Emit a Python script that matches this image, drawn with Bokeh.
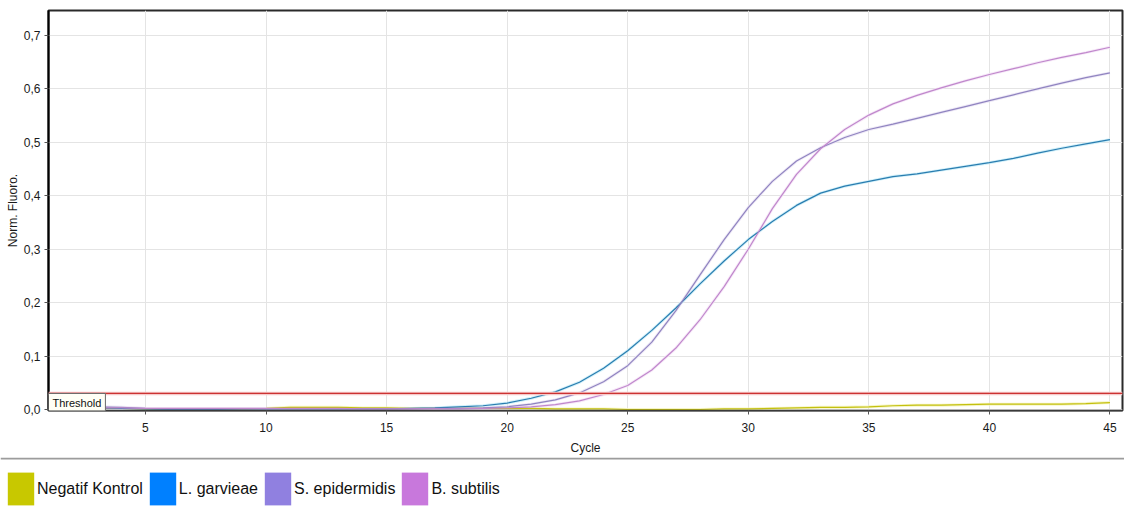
from bokeh.plotting import figure
from bokeh.models import (Range1d, FixedTicker, CustomJSTickFormatter, Span, Label,
                          Legend, LegendItem, ColumnDataSource)
from bokeh.layouts import column
from bokeh.embed import file_html
from bokeh.resources import INLINE

# ---------------- data ----------------
cycles = list(range(1, 46))
series_names = ["Negatif Kontrol", "L. garvieae", "S. epidermidis", "B. subtilis"]
legend_colors = ["#c8c800", "#0080ff", "#9080e0", "#c878dc"]
line_colors = ["#c4c010", "#2a7db0", "#9084c0", "#c088cc"]
halo_colors = ["#f4f4b8", "#c6ecf8", "#e8e2f4", "#f4e2f6"]

negatif_kontrol = [0.002, 0.002, 0.002, 0.002, 0.001, 0.001, 0.001, 0.001, 0.001, 0.002,
                   0.004, 0.004, 0.004, 0.003, 0.003, 0.002, 0.002, 0.002, 0.002, 0.002,
                   0.002, 0.001, 0.001, 0.001, 0.000, 0.000, 0.000, 0.000, 0.001, 0.001,
                   0.002, 0.003, 0.004, 0.004, 0.005, 0.007, 0.008, 0.008, 0.009, 0.010,
                   0.010, 0.010, 0.010, 0.011, 0.013]
l_garvieae = [0.004, 0.004, 0.003, 0.002, 0.001, 0.000, 0.000, 0.000, 0.001, 0.001,
              0.001, 0.001, 0.001, 0.001, 0.001, 0.002, 0.003, 0.005, 0.007, 0.012,
              0.021, 0.033, 0.051, 0.077, 0.110, 0.148, 0.190, 0.235, 0.278, 0.318,
              0.352, 0.382, 0.405, 0.418, 0.427, 0.436, 0.441, 0.448, 0.455, 0.462,
              0.470, 0.480, 0.489, 0.497, 0.505]
s_epidermidis = [0.005, 0.005, 0.005, 0.004, 0.002, 0.001, 0.001, 0.001, 0.001, 0.001,
                 0.001, 0.001, 0.001, 0.001, 0.001, 0.001, 0.002, 0.002, 0.003, 0.005,
                 0.010, 0.018, 0.031, 0.052, 0.082, 0.126, 0.185, 0.252, 0.318, 0.378,
                 0.427, 0.465, 0.490, 0.509, 0.524, 0.534, 0.545, 0.556, 0.567, 0.578,
                 0.589, 0.600, 0.611, 0.621, 0.630]
b_subtilis = [0.003, 0.003, 0.003, 0.003, 0.002, 0.002, 0.002, 0.002, 0.002, 0.002,
              0.002, 0.002, 0.002, 0.001, 0.001, 0.001, 0.001, 0.001, 0.002, 0.003,
              0.005, 0.009, 0.016, 0.028, 0.045, 0.074, 0.115, 0.168, 0.230, 0.300,
              0.376, 0.440, 0.488, 0.524, 0.551, 0.572, 0.588, 0.602, 0.615, 0.627,
              0.638, 0.649, 0.659, 0.668, 0.678]
series_values = [negatif_kontrol, l_garvieae, s_epidermidis, b_subtilis]

threshold = 0.03
x_ticks = [5, 10, 15, 20, 25, 30, 35, 40, 45]
y_ticks = [0.0, 0.1, 0.2, 0.3, 0.4, 0.5, 0.6, 0.7]
x_title = "Cycle"
y_title = "Norm. Fluoro."
threshold_text = "Threshold"

FONT = "Liberation Sans"
NAN = float("nan")

# ---------------- main plot ----------------
p = figure(width=1124, height=457, x_range=Range1d(0.98, 45.52), y_range=Range1d(-0.0019, 0.7468),
           output_backend="svg", toolbar_location=None,
           min_border_left=48, min_border_right=2, min_border_top=10, min_border_bottom=47)
p.frame_align = False
p.background_fill_color = "white"
p.border_fill_color = "white"
p.outline_line_color = "#2a2a2a"
p.outline_line_width = 2

p.xaxis.ticker = FixedTicker(ticks=x_ticks)
p.yaxis.ticker = FixedTicker(ticks=y_ticks)
p.yaxis.formatter = CustomJSTickFormatter(code="return tick.toFixed(1).replace('.', ',');")
p.xaxis.axis_label = x_title
p.yaxis.axis_label = y_title
for ax in (p.xaxis, p.yaxis):
    ax.axis_label_text_font = FONT
    ax.axis_label_text_font_size = "12px"
    ax.axis_label_text_font_style = "normal"
    ax.axis_label_text_color = "#1a1a1a"
    ax.major_label_text_font = FONT
    ax.major_label_text_font_size = "12px"
    ax.major_label_text_color = "#1a1a1a"
    ax.major_tick_in = 0
    ax.major_tick_out = 4
    ax.minor_tick_in = 0
    ax.minor_tick_out = 0
    ax.major_tick_line_color = "#555555"
p.yaxis.axis_line_color = "black"
p.yaxis.axis_line_width = 2
p.xaxis.axis_line_color = "#3a3a3a"
p.xaxis.axis_line_width = 1.5
p.xaxis.major_label_standoff = 8
p.xaxis.axis_label_standoff = 6
p.yaxis.major_label_standoff = 4
p.yaxis.axis_label_standoff = 1

p.xgrid.grid_line_color = "#e4e4e4"
p.ygrid.grid_line_color = "#e4e4e4"

# threshold line with soft halo
p.add_layout(Span(location=threshold, dimension="width", line_color="#f6caca", line_width=3.5))
p.add_layout(Span(location=threshold, dimension="width", line_color="#cc3333", line_width=1.3))

for name, vals, lc, hc in zip(series_names, series_values, line_colors, halo_colors):
    src = ColumnDataSource(dict(x=cycles, y=vals))
    p.line("x", "y", source=src, line_color=hc, line_width=3.0, line_alpha=0.8)
for name, vals, lc, hc in zip(series_names, series_values, line_colors, halo_colors):
    src = ColumnDataSource(dict(x=cycles, y=vals))
    p.line("x", "y", source=src, line_color=lc, line_width=1.2)

p.add_layout(Label(x=0.98, y=threshold, text=threshold_text, anchor="top_left",
                   text_font=FONT, text_font_size="11px", text_color="#111111",
                   border_line_color="#6a6a6a", border_line_width=1,
                   background_fill_color="#fffff6", padding=4))

# ---------------- legend strip ----------------
p2 = figure(width=1124, height=51, x_range=Range1d(0, 1), y_range=Range1d(0, 51),
            x_axis_location=None, y_axis_location=None, min_border=0,
            min_border_left=0, min_border_right=0, min_border_top=0, min_border_bottom=0,
            toolbar_location=None, output_backend="svg")
p2.frame_align = False
p2.outline_line_color = None
p2.background_fill_color = "white"
p2.border_fill_color = "white"
p2.xgrid.visible = False
p2.ygrid.visible = False
p2.add_layout(Span(location=50, dimension="width", line_color="#9c9c9c", line_width=2))

items = []
for name, col in zip(series_names, legend_colors):
    r = p2.quad(left=[NAN], right=[NAN], top=[NAN], bottom=[NAN], fill_color=col, line_color=None)
    items.append(LegendItem(label=name, renderers=[r]))

legend = Legend(items=items, orientation="horizontal", location=(4, -1),
                glyph_width=33, glyph_height=41, label_standoff=0, spacing=3,
                padding=0, margin=0, border_line_color=None, background_fill_alpha=0,
                label_text_font=FONT, label_text_font_size="16px", label_height=41,
                label_text_color="#111111")
p2.add_layout(legend)

layout = column(p, p2, spacing=0)
open("out.html", "w").write(file_html(layout, INLINE))
